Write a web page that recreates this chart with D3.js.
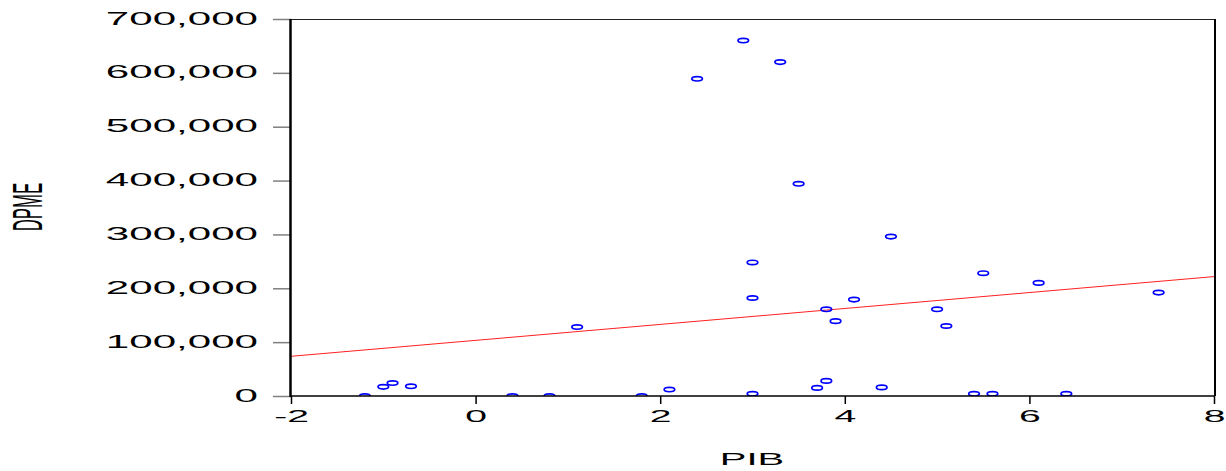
<!DOCTYPE html>
<html>
<head>
<meta charset="utf-8">
<script src="https://cdn.jsdelivr.net/npm/d3@7"></script>
<style>
  body { margin: 0; background: #fff; }
  svg { display: block; font-family: "Liberation Sans", Arial, sans-serif; }
</style>
</head>
<body>
<svg id="chart" width="1226" height="471"></svg>
<script>
// data
var pib  = [-1.2, -1.0, -0.9, -0.7, 0.4, 0.8, 1.1, 1.8, 2.1, 2.4, 2.9, 3.0, 3.0, 3.0, 3.3, 3.5,
            3.7, 3.8, 3.8, 3.9, 4.1, 4.4, 4.5, 5.0, 5.1, 5.4, 5.5, 5.6, 6.1, 6.4, 7.4];
var dpme = [0, 17000, 24000, 18000, 0, 0, 128000, 0, 12000, 589000, 660000, 248000, 182000, 4000, 620000, 394000,
            15000, 28000, 161000, 139000, 179000, 16000, 296000, 161000, 130000, 4000, 228000, 4000, 210000, 4000, 192000];
var xTicks = [-2, 0, 2, 4, 6, 8];
var yTicks = [0, 100000, 200000, 300000, 400000, 500000, 600000, 700000];
// fitted line (intercept, slope)
var fitA = 103300;
var fitB = 14800;

var svg = d3.select("#chart");

var x = d3.scaleLinear().domain([-2, 8]).range([291, 1214]);
var y = d3.scaleLinear().domain([0, 700000]).range([396, 19]);

// 1. clip + points
svg.append("clipPath").attr("id", "plot")
    .append("rect")
    .attr("x", x(-2)).attr("y", y(700000))
    .attr("width", x(8) - x(-2)).attr("height", y(0) - y(700000));

var plot = svg.append("g").attr("clip-path", "url(#plot)");

plot.append("line")
    .attr("x1", x(-2)).attr("y1", y(fitA + fitB * -2))
    .attr("x2", x(8)).attr("y2", y(fitA + fitB * 8))
    .attr("stroke", "#ff2020")
    .attr("stroke-width", 1);

plot.selectAll("ellipse")
    .data(pib)
    .enter()
    .append("ellipse")
    .attr("cx", function (d) { return x(d) })
    .attr("cy", function (d, i) { return y(dpme[i]) })
    .attr("rx", 5.3)
    .attr("ry", 2.2)
    .attr("fill", "none")
    .attr("stroke", "#0000ff")
    .attr("stroke-width", 1.7);

// 2. axes
var yAxis = svg.append("g")
    .attr("transform", "translate(" + x(-2) + ",0)")
    .call(d3.axisLeft(y).tickValues(yTicks).tickSize(18).tickFormat(d3.format(",")));

yAxis.select(".domain").remove();
yAxis.selectAll(".tick line").attr("stroke", "#808080").attr("stroke-width", 1.5);
yAxis.selectAll(".tick text")
    .attr("x", 0).attr("dy", null).attr("y", 0)
    .attr("transform", "translate(-33,5) scale(2.34,1)")
    .attr("font-size", 18)
    .attr("font-family", null)
    .attr("fill", "#000");

var xAxis = svg.append("g")
    .attr("transform", "translate(0," + y(0) + ")")
    .call(d3.axisBottom(x).tickValues(xTicks).tickSize(8).tickFormat(function (d) { return String(d) }));

xAxis.select(".domain").remove();
xAxis.selectAll(".tick line").attr("stroke", "#000").attr("stroke-width", 1.5);
xAxis.selectAll(".tick text")
    .attr("y", 0).attr("dy", null)
    .attr("transform", "translate(0,26) scale(2.3,1)")
    .attr("font-size", 17)
    .attr("font-family", null)
    .attr("fill", "#000");

// 3. frame
svg.append("line").attr("x1", x(-2)).attr("x2", x(8)).attr("y1", 19.5).attr("y2", 19.5)
    .attr("stroke", "#222").attr("stroke-width", 1);
svg.append("line").attr("x1", x(8) + 1).attr("x2", x(8) + 1).attr("y1", 19).attr("y2", y(0))
    .attr("stroke", "#000").attr("stroke-width", 2);
svg.append("line").attr("x1", x(-2) - 1).attr("x2", x(8) + 1).attr("y1", y(0)).attr("y2", y(0))
    .attr("stroke", "#000").attr("stroke-width", 1.5);
svg.append("line").attr("x1", x(-2) - 0.5).attr("x2", x(-2) - 0.5).attr("y1", 19).attr("y2", y(0) + 1)
    .attr("stroke", "#000").attr("stroke-width", 2.5);

// 4. titles
svg.append("text")
    .attr("transform", "translate(752,465) scale(2.35,1)")
    .attr("text-anchor", "middle")
    .attr("font-size", 17)
    .text("PIB");

svg.append("text")
    .attr("transform", "translate(42,207) rotate(-90) scale(0.4,1)")
    .attr("text-anchor", "middle")
    .attr("font-size", 42)
    .text("DPME");
</script>
</body>
</html>
